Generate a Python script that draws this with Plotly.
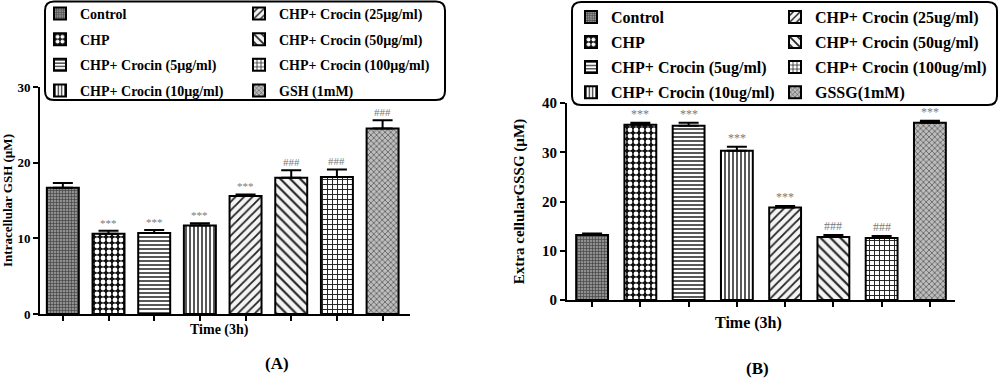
import plotly.graph_objects as go

# ---------------- data ----------------
groups_A = ["Control", "CHP", "CHP+ Crocin (5µg/ml)", "CHP+ Crocin (10µg/ml)",
            "CHP+ Crocin (25µg/ml)", "CHP+ Crocin (50µg/ml)", "CHP+ Crocin (100µg/ml)", "GSH (1mM)"]
values_A = [16.7, 10.6, 10.7, 11.7, 15.6, 18.0, 18.1, 24.5]
errors_A = [0.6, 0.4, 0.4, 0.3, 0.2, 1.0, 1.0, 1.1]
marks_A = ["", "***", "***", "***", "***", "###", "###", "###"]

groups_B = ["Control", "CHP", "CHP+ Crocin (5ug/ml)", "CHP+ Crocin (10ug/ml)",
            "CHP+ Crocin (25ug/ml)", "CHP+ Crocin (50ug/ml)", "CHP+ Crocin (100ug/ml)", "GSSG(1mM)"]
values_B = [13.2, 35.6, 35.4, 30.3, 18.8, 12.8, 12.6, 36.0]
errors_B = [0.3, 0.4, 0.6, 0.8, 0.3, 0.4, 0.4, 0.4]
marks_B = ["", "***", "***", "***", "***", "###", "###", "***"]

yticks_A = [0, 10, 20, 30]
yticks_B = [0, 10, 20, 30, 40]

# ---------------- styles ----------------
patterns = [
    dict(shape="+", fgcolor="#444", bgcolor="#8f8f8f", size=3, solidity=0.4),
    dict(shape=".", fgcolor="#ffffff", bgcolor="#111111", size=6, solidity=0.5),
    dict(shape="-", fgcolor="#111", bgcolor="#ffffff", size=4, solidity=0.35),
    dict(shape="|", fgcolor="#111", bgcolor="#ffffff", size=4, solidity=0.35),
    dict(shape="/", fgcolor="#222", bgcolor="#f4f4f4", size=6, solidity=0.3),
    dict(shape="\\", fgcolor="#222", bgcolor="#f4f4f4", size=7, solidity=0.3),
    dict(shape="+", fgcolor="#222", bgcolor="#ffffff", size=5, solidity=0.35),
    dict(shape="x", fgcolor="#444", bgcolor="#bdbdbd", size=4, solidity=0.3),
]
FONT = "Liberation Serif"
W, H = 1000.0, 378.0

fig = go.Figure()


def add_panel(groups, values, errors, xa, ya, leg1, leg2, width):
    for i, (g, v, e) in enumerate(zip(groups, values, errors)):
        p = dict(patterns[i])
        p["fillmode"] = "replace"
        fig.add_trace(go.Bar(
            x=[g], y=[v], name=g, width=width,
            xaxis=xa, yaxis=ya,
            legend=leg1 if i < 4 else leg2,
            legendgroup=f"{xa}{i}",
            marker=dict(color="#888", pattern=p, line=dict(color="black", width=2)),
            error_y=dict(type="data", symmetric=False, array=[e], arrayminus=[0],
                         color="black", thickness=2, width=10),
        ))


add_panel(groups_A, values_A, errors_A, "x", "y", "legend", "legend2", 0.7)
add_panel(groups_B, values_B, errors_B, "x2", "y2", "legend3", "legend4", 0.66)

annotations = []
for groups, values, errors, marks, xr, yr, fs in [
    (groups_A, values_A, errors_A, marks_A, "x", "y", 11),
    (groups_B, values_B, errors_B, marks_B, "x2", "y2", 12),
]:
    for g, v, e, m in zip(groups, values, errors, marks):
        if m:
            annotations.append(dict(x=g, y=v + e, xref=xr, yref=yr, text=m, showarrow=False,
                                    yanchor="bottom", yshift=0,
                                    font=dict(family=FONT, size=fs, color="#7a7a7a")))


def label(text, xpx, ypx, size):
    return dict(x=xpx / W, y=(H - ypx) / H, xref="paper", yref="paper", text=text,
                showarrow=False, xanchor="center", yanchor="middle",
                font=dict(family=FONT, size=size, color="black", weight="bold"))


annotations += [
    label("Time (3h)", 219, 330, 14),
    label("Time (3h)", 748, 323, 16),
    label("(A)", 277, 363, 17),
    label("(B)", 757, 368, 17),
]


def rounded_rect(x0, y0, x1, y1, r=9):
    X = lambda px: px / W
    Y = lambda py: (H - py) / H
    return (f"M {X(x0 + r)},{Y(y0)} L {X(x1 - r)},{Y(y0)} Q {X(x1)},{Y(y0)} {X(x1)},{Y(y0 + r)} "
            f"L {X(x1)},{Y(y1 - r)} Q {X(x1)},{Y(y1)} {X(x1 - r)},{Y(y1)} "
            f"L {X(x0 + r)},{Y(y1)} Q {X(x0)},{Y(y1)} {X(x0)},{Y(y1 - r)} "
            f"L {X(x0)},{Y(y0 + r)} Q {X(x0)},{Y(y0)} {X(x0 + r)},{Y(y0)} Z")


shapes = [
    dict(type="path", xref="paper", yref="paper", path=rounded_rect(45, 1.5, 445, 100),
         line=dict(color="black", width=2), layer="above"),
    dict(type="path", xref="paper", yref="paper", path=rounded_rect(572, 2, 997, 105),
         line=dict(color="black", width=2), layer="above"),
]

axis_common = dict(showline=True, linecolor="black", linewidth=2, ticks="outside",
                   tickcolor="black", tickwidth=2, ticklen=5, showgrid=False, zeroline=False,
                   mirror=False)


def leg(xpx, ypx, size, gap):
    return dict(x=xpx / W, y=(H - ypx) / H, xanchor="left", yanchor="top",
                bgcolor="rgba(0,0,0,0)",
                borderwidth=0, traceorder="grouped", tracegroupgap=gap, itemclick=False,
                font=dict(family=FONT, size=size, color="black", weight="bold"))


fig.update_layout(
    width=1000, height=378,
    margin=dict(l=0, r=0, t=0, b=0, autoexpand=False),
    paper_bgcolor="white", plot_bgcolor="white",
    barmode="overlay", showlegend=True,
    font=dict(family=FONT, color="black"),
    xaxis=dict(domain=[0.04, 0.41], range=[-0.5, 7.6], showticklabels=False,
               categoryorder="array", categoryarray=groups_A,
               **axis_common),
    yaxis=dict(domain=[(H - 314) / H, (H - 87) / H], range=[0, 30], tickvals=yticks_A,
               tickfont=dict(family=FONT, size=13, weight="bold"),
               title=dict(text="Intracellular GSH (µM)", standoff=3,
                          font=dict(family=FONT, size=13, weight="bold")),
               **axis_common),
    xaxis2=dict(domain=[0.567, 0.955], range=[-0.52, 7.52], showticklabels=False,
                categoryorder="array", categoryarray=groups_B, anchor="y2",
                **axis_common),
    yaxis2=dict(domain=[(H - 300) / H, (H - 103) / H], range=[0, 40], tickvals=yticks_B,
                anchor="x2",
                tickfont=dict(family=FONT, size=15, weight="bold"),
                title=dict(text="Extra cellularGSSG (µM)", standoff=14,
                           font=dict(family=FONT, size=15, weight="bold")),
                **axis_common),
    legend=leg(40, -2, 14, 4.4),
    legend2=leg(239, -2, 14, 4.4),
    legend3=leg(571, 0, 16, 1.3),
    legend4=leg(775, 0, 16, 1.3),
    annotations=annotations,
    shapes=shapes,
)

fig.write_html("out.html", config={"displayModeBar": False},
               post_script="document.body.style.margin='0';document.body.style.overflow='hidden';")
